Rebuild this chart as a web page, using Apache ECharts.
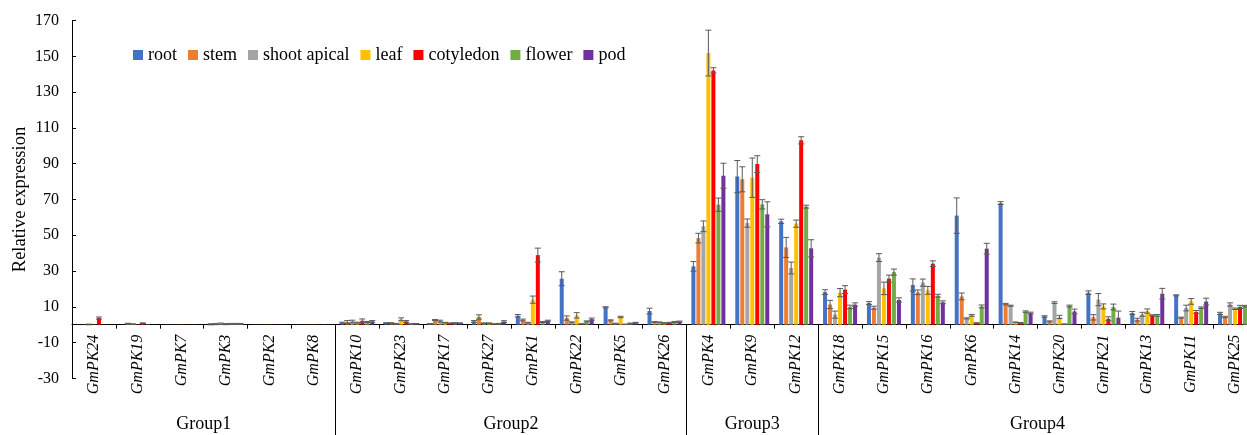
<!DOCTYPE html>
<html>
<head>
<meta charset="utf-8">
<script src="https://cdn.jsdelivr.net/npm/echarts@6/dist/echarts.min.js"></script>
<style>
  html, body { margin: 0; padding: 0; background: #fff; }
  #chart { width: 1247px; height: 435px; }
</style>
</head>
<body>
<div id="chart"></div>
<script>
// Gene names along the x axis, in plotting order
const categories = [
  'GmPK24', 'GmPK19', 'GmPK7', 'GmPK3', 'GmPK2', 'GmPK8',
  'GmPK10', 'GmPK23', 'GmPK17', 'GmPK27', 'GmPK1', 'GmPK22', 'GmPK5', 'GmPK26',
  'GmPK4', 'GmPK9', 'GmPK12',
  'GmPK18', 'GmPK15', 'GmPK16', 'GmPK6', 'GmPK14', 'GmPK20', 'GmPK21', 'GmPK13', 'GmPK11', 'GmPK25'
];

// Gene groups: [first category index, last category index]
const groupNames = ['Group1', 'Group2', 'Group3', 'Group4'];
const groupRanges = [[0, 5], [6, 13], [14, 16], [17, 26]];

// Tissue names (legend order)
const tissues = ['root', 'stem', 'shoot apical', 'leaf', 'cotyledon', 'flower', 'pod'];

// Relative expression per tissue
const root = [0.1, 0.1, 0.1, 0.2, 0.1, 0.1, 1.1, 0.9, 0.4, 1.8, 5.0, 25.7, 9.7, 7.6, 32.6, 82.8, 57.8, 18.2, 12.1, 22.2, 61.0, 68.0, 4.6, 17.9, 6.5, 16.4, 6.3];
const stem = [0.1, 0.6, 0.1, 0.3, 0.1, 0.1, 1.5, 0.9, 2.6, 4.3, 2.6, 3.7, 2.4, 1.5, 48.4, 81.3, 43.2, 11.3, 9.5, 18.1, 15.8, 11.5, 1.8, 4.1, 2.8, 3.9, 4.3];
const shootApical = [0.1, 0.3, 0.1, 0.5, 0.1, 0.1, 1.8, 0.5, 2.0, 0.8, 1.1, 1.3, 0.6, 1.3, 55.0, 56.8, 31.7, 5.6, 37.5, 23.5, 3.5, 10.6, 12.3, 14.0, 5.8, 9.3, 11.3];
const leaf = [0.1, 0.1, 0.1, 0.3, 0.1, 0.1, 1.1, 3.0, 1.1, 0.8, 14.0, 5.2, 4.3, 0.9, 151.9, 82.2, 56.5, 17.9, 20.3, 19.2, 5.2, 1.3, 4.3, 10.2, 7.6, 13.0, 8.9];
const cotyledon = [3.7, 0.8, 0.1, 0.4, 0.1, 0.1, 2.2, 1.8, 0.8, 0.4, 38.9, 0.4, 0.2, 1.1, 142.2, 89.8, 103.1, 19.6, 25.7, 34.1, 0.9, 0.9, 0.3, 3.3, 5.2, 7.1, 9.9];
const flower = [0.1, 0.2, 0.1, 0.4, 0.1, 0.1, 1.5, 0.4, 0.9, 0.5, 1.5, 1.8, 0.7, 1.5, 67.1, 67.3, 66.0, 9.9, 29.4, 16.2, 10.2, 7.3, 10.4, 9.9, 5.2, 9.5, 10.4];
const pod = [0.1, 0.1, 0.1, 0.4, 0.1, 0.1, 1.8, 0.5, 0.8, 1.7, 2.2, 3.1, 1.1, 1.7, 83.3, 61.7, 42.7, 11.2, 13.8, 12.5, 42.5, 6.5, 7.4, 3.9, 17.3, 12.9, 11.0];

// Standard deviation per tissue
const rootErr = [0, 0, 0, 0.3, 0, 0, 0.3, 0.2, 0.2, 0.5, 0.7, 3.9, 0.3, 1.6, 2.7, 9.0, 1.2, 1.3, 0.8, 3.4, 9.9, 0.8, 0.4, 1.0, 0.9, 0.3, 0.6];
const stemErr = [0, 0.2, 0, 0.3, 0, 0, 0.8, 0.2, 0.3, 1.2, 0.5, 1.2, 0.3, 0.2, 2.7, 7.0, 5.6, 2.3, 0.8, 1.3, 1.9, 0.4, 0.3, 1.5, 0.8, 0.3, 0.4];
const shootApicalErr = [0.2, 0.2, 0, 0.4, 0, 0, 0.7, 0.2, 0.5, 0.2, 0.2, 0.3, 0.2, 0.2, 3.0, 2.3, 3.3, 2.0, 2.2, 2.0, 0.3, 0.3, 0.5, 3.4, 1.1, 1.6, 0.9];
const leafErr = [0, 0, 0, 0.3, 0, 0, 0.3, 0.8, 0.2, 0.2, 2.0, 1.5, 0.4, 0.2, 12.8, 11.0, 2.0, 2.3, 3.5, 2.2, 0.5, 0.2, 0.9, 1.4, 1.2, 1.6, 0.4];
const cotyledonErr = [0.6, 0.2, 0, 0.3, 0, 0, 1.0, 0.5, 0.2, 0.1, 3.9, 0.1, 0.1, 0.2, 1.5, 4.7, 2.0, 2.2, 2.0, 1.6, 0.2, 0.3, 0.1, 1.1, 0.3, 0.8, 0.9];
const flowerErr = [0, 0, 0, 0.3, 0, 0, 0.3, 0.1, 0.2, 0.2, 0.3, 0.3, 0.2, 0.3, 3.7, 2.6, 0.8, 1.0, 1.7, 0.8, 0.8, 0.4, 0.5, 1.6, 0.5, 0.4, 0.4];
const podErr = [0, 0, 0, 0.3, 0, 0, 0.5, 0.1, 0.2, 0.5, 0.3, 0.6, 0.2, 0.3, 7.0, 7.0, 4.8, 1.0, 1.2, 0.8, 3.0, 0.5, 1.3, 3.7, 3.0, 1.9, 0.5];

// Y axis tick labels
const yTicks = [-30, -10, 10, 30, 50, 70, 90, 110, 130, 150, 170];

const values = [root, stem, shootApical, leaf, cotyledon, flower, pod];
const errors = [rootErr, stemErr, shootApicalErr, leafErr, cotyledonErr, flowerErr, podErr];
const colors = ['#4472C4', '#ED7D31', '#A5A5A5', '#FFC000', '#FF0000', '#70AD47', '#7030A0'];

const FONT = '"Times New Roman", "Liberation Serif", serif';
const BAR_W = 4;
const BAR_GAP = 1;

// Plot area
const GRID_LEFT = 72, GRID_TOP = 20.7, GRID_BOTTOM = 56.7, GRID_WIDTH = 1185;
const Y_MIN = -30, Y_MAX = 170;
const gridHeight = 435 - GRID_TOP - GRID_BOTTOM;
// lift the category axis from the bottom edge up to the zero line
const zeroOffset = -gridHeight * (0 - Y_MIN) / (Y_MAX - Y_MIN);

const barSeries = tissues.map((name, s) => ({
  name: name,
  type: 'bar',
  data: values[s],
  barWidth: BAR_W,
  barGap: (BAR_GAP / BAR_W * 100) + '%',
  itemStyle: { color: colors[s] },
  z: 2
}));

// Error bar records: [category index, value, sd, tissue index]
const errData = [];
values.forEach((arr, s) => {
  arr.forEach((v, i) => {
    if (errors[s][i] > 0) errData.push([i, v, errors[s][i], s]);
  });
});

const errorSeries = {
  type: 'custom',
  name: 'sd',
  data: errData,
  encode: { x: 0, y: 1 },
  silent: true,
  z: 5,
  renderItem: function (params, api) {
    const idx = api.value(0), v = api.value(1), e = api.value(2), s = api.value(3);
    const off = (s - (tissues.length - 1) / 2) * (BAR_W + BAR_GAP);
    const hi = api.coord([idx, v + e]);
    const lo = api.coord([idx, v - e]);
    const x = hi[0] + off;
    const cap = 3;
    const st = { stroke: '#5a5a5a', lineWidth: 1 };
    return {
      type: 'group',
      children: [
        { type: 'line', shape: { x1: x, y1: hi[1], x2: x, y2: lo[1] }, style: st },
        { type: 'line', shape: { x1: x - cap, y1: hi[1], x2: x + cap, y2: hi[1] }, style: st },
        { type: 'line', shape: { x1: x - cap, y1: lo[1], x2: x + cap, y2: lo[1] }, style: st }
      ]
    };
  }
};

// Group dividers and group captions below the gene names
const groupSeries = {
  type: 'custom',
  name: 'groups',
  data: groupRanges.map(r => [r[0], r[1]]),
  encode: { x: 0 },
  silent: true,
  clip: false,
  z: 6,
  renderItem: function (params, api) {
    const a = api.value(0), b = api.value(1);
    const bw = api.size([1, 0])[0];
    const p0 = api.coord([a, 0]);
    const p1 = api.coord([b, 0]);
    const xL = p0[0] - bw / 2;
    const xR = p1[0] + bw / 2;
    const H = api.getHeight();
    const children = [{
      type: 'text',
      style: {
        text: groupNames[params.dataIndex],
        x: (xL + xR) / 2, y: H - 11,
        align: 'center', verticalAlign: 'middle',
        font: '18px ' + FONT, fill: '#000'
      }
    }];
    if (params.dataIndex < groupRanges.length - 1) {
      children.push({
        type: 'line',
        shape: { x1: Math.round(xR) + 0.5, y1: p0[1], x2: Math.round(xR) + 0.5, y2: H },
        style: { stroke: '#000', lineWidth: 1 }
      });
    }
    return { type: 'group', children: children };
  }
};

const chart = echarts.init(document.getElementById('chart'), null, { renderer: 'canvas' });
chart.setOption({
  animation: false,
  backgroundColor: '#fff',
  textStyle: { fontFamily: FONT },
  grid: {
    left: GRID_LEFT, top: GRID_TOP, width: GRID_WIDTH, bottom: GRID_BOTTOM,
    containLabel: false, outerBoundsMode: 'none'
  },
  legend: {
    data: tissues,
    left: 128,
    top: 41,
    icon: 'rect',
    itemWidth: 10,
    itemHeight: 10,
    itemGap: 11,
    textStyle: { fontFamily: FONT, fontSize: 18, color: '#000' }
  },
  xAxis: {
    type: 'category',
    data: categories,
    position: 'bottom',
    offset: zeroOffset,
    axisLine: { onZero: false, lineStyle: { color: '#000', width: 1 } },
    axisTick: { show: true, length: 4, lineStyle: { color: '#000' } },
    axisLabel: {
      rotate: 90,
      interval: 0,
      margin: 10,
      fontFamily: FONT,
      fontStyle: 'italic',
      fontSize: 16,
      color: '#000'
    },
    splitLine: { show: false }
  },
  yAxis: {
    type: 'value',
    min: Y_MIN,
    max: Y_MAX,
    name: 'Relative expression',
    nameLocation: 'middle',
    nameGap: 42,
    nameMoveOverlap: false,
    nameTextStyle: { fontFamily: FONT, fontSize: 18.5, color: '#000' },
    axisLine: { show: true, onZero: false, lineStyle: { color: '#000', width: 1 } },
    axisTick: { show: true, inside: true, length: 4, customValues: yTicks, lineStyle: { color: '#000' } },
    axisLabel: { customValues: yTicks, margin: 13, fontFamily: FONT, fontSize: 16, color: '#000' },
    splitLine: { show: false }
  },
  series: barSeries.concat([errorSeries, groupSeries])
});
</script>
</body>
</html>
